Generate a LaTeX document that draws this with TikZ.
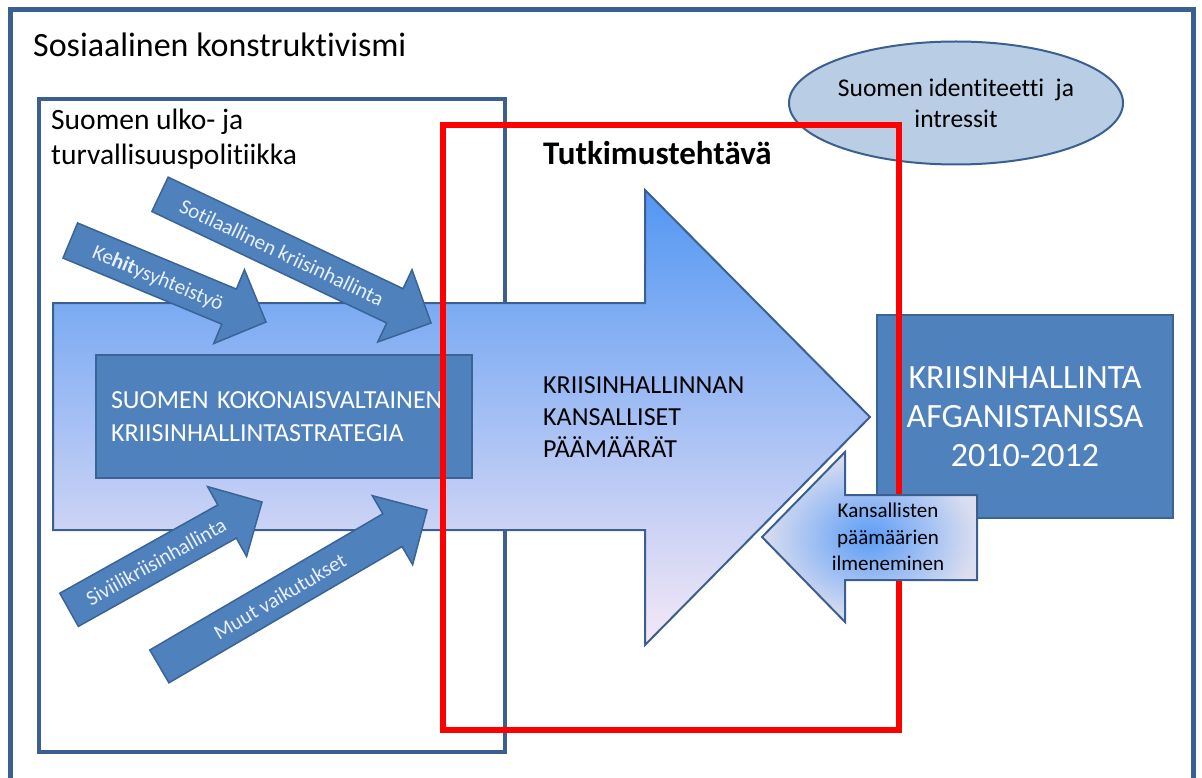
\documentclass[tikz,border=0pt]{standalone}
\usepackage{fontspec}
\setmainfont{Carlito}[Ligatures=NoCommon]
\usetikzlibrary{shapes.geometric,positioning}
\definecolor{edgeblue}{RGB}{59,95,143}
\definecolor{boxblue}{RGB}{79,129,189}
\definecolor{boxedge}{RGB}{58,99,150}
\definecolor{ellfill}{RGB}{185,205,229}
\definecolor{shadetop}{RGB}{82,150,242}
\definecolor{shademid}{RGB}{148,197,248}
\definecolor{shadebot}{RGB}{246,232,246}
\definecolor{glowin}{RGB}{92,157,246}
\definecolor{glowout}{RGB}{220,222,240}
\definecolor{paletext}{RGB}{232,239,248}
\tikzset{panel/.style={draw=edgeblue,line width=4pt,inner sep=0pt},
  darkbox/.style={draw=boxedge,line width=2pt,fill=boxblue,text=white,inner sep=0pt},
  slant/.style={draw=boxedge,line width=1.5pt,fill=boxblue},
  slantlabel/.style={text=paletext,font=\fontsize{21}{21}\selectfont,inner sep=0pt,
    text height=15pt,text depth=0pt,transform shape},
  caption/.style={inner sep=0pt,align=left}}

\begin{document}
\begin{tikzpicture}[x=1pt,y=-1pt]
\useasboundingbox (0,0) rectangle (1202,778);
% outer frame
\draw[edgeblue,line width=5pt] (10,10) rectangle (1193,800);
\node[anchor=base west,inner sep=0pt,font=\fontsize{34}{40}\selectfont] (title) at (33,57) {Sosiaalinen konstruktivismi};
% policy box
\node[panel,minimum width=466pt,minimum height=653pt,anchor=north west] (policy) at (37,97) {};
\node[caption,anchor=north west,font=\fontsize{29.5}{35}\selectfont] (policytext) at (51,109) {Suomen ulko- ja\\turvallisuuspolitiikka};
\node[ellipse,draw=edgeblue,line width=2pt,fill=ellfill,minimum width=326pt,minimum height=123pt,
  inner sep=0pt,align=center,font=\fontsize{25.5}{31}\selectfont] (identity) at (956,103) {Suomen identiteetti\ \ ja\\intressit};
% big arrow
\draw[edgeblue,line width=2pt,top color=shadetop,middle color=shademid,bottom color=shadebot]
  (53,303) -- (645,303) -- (645,190) -- (870,417) -- (645,645) -- (645,530) -- (53,530) -- cycle;
\node[darkbox,minimum width=376pt,minimum height=123pt,text width=346pt,align=left,
  font=\fontsize{26}{33}\selectfont] (strategy) at (284,416.5) {SUOMEN KOKONAISVALTAINEN\\KRIISINHALLINTASTRATEGIA};
\node[caption,anchor=north west,font=\fontsize{26}{32}\selectfont] (goals) at (543,376) {KRIISINHALLINNAN\\KANSALLISET\\PÄÄMÄÄRÄT};
\node[anchor=base west,inner sep=0pt,font=\bfseries\fontsize{33}{38}\selectfont] (task) at (543,165) {Tutkimustehtävä};
% influences: tip x/y, angle, length
\foreach \name/\tx/\ty/\ang/\len/\lbl in {kehitys/266/322/-22.6/212/{Ke\textbf{hit}ysyhteistyö},
    sotilas/431/323/-25.4/300/{Sotilaallinen kriisinhallinta},
    siviili/262/502/29.2/221/{Siviilikriisinhallinta},
    muut/427/510/30.3/310/{Muut vaikutukset}}{
  \begin{scope}[shift={(\tx,\ty)},rotate=\ang]
    \draw[slant] (0,0) -- (-40,-40) -- (-40,-19) -- (-\len,-19) -- (-\len,19) -- (-40,19) -- (-40,40) -- cycle;
    \node[slantlabel] (\name) at (-0.55*\len,0) {\lbl};
  \end{scope}
}
\node[darkbox,minimum width=296pt,minimum height=203pt,align=center,
  font=\fontsize{34}{39}\selectfont] (afgan) at (1025,416.5) {KRIISINHALLINTA\\AFGANISTANISSA\\2010-2012};
% research task
\draw[red,line width=6pt] (443,125) rectangle (899,730);
\draw[edgeblue,line width=2pt,inner color=glowin,outer color=glowout]
  (762,537) -- (845,452) -- (845,495) -- (977,495) -- (977,580) -- (845,580) -- (845,622) -- cycle;
\node[caption,align=center,font=\fontsize{21}{26.5}\selectfont] (emerge) at (888,537) {Kansallisten\\päämäärien\\ilmeneminen};
\end{tikzpicture}
\end{document}
